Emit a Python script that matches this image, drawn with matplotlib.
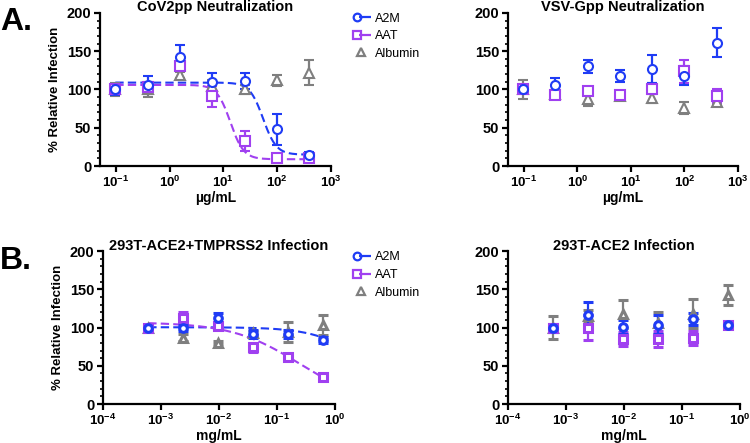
import numpy as np
import matplotlib
matplotlib.use("Agg")
import matplotlib.pyplot as plt
from matplotlib.lines import Line2D
from matplotlib.legend_handler import HandlerTuple
from matplotlib.ticker import MultipleLocator, FixedLocator, FuncFormatter

plt.rcParams["font.family"] = ["Liberation Sans", "DejaVu Sans"]
plt.rcParams["mathtext.fontset"] = "custom"
plt.rcParams["mathtext.rm"] = "Liberation Sans:bold"
plt.rcParams["mathtext.bf"] = "Liberation Sans:bold"

# ── data ──────────────────────────────────────────────────────────────────────
series_names = ["A2M", "AAT", "Albumin"]

# Panel A: pseudovirus neutralization (µg/mL)
conc_ug = [0.0977, 0.39, 1.56, 6.25, 25, 100, 400]

cov_a2m = [100, 106, 143, 110, 111, 48, 15]
cov_a2m_err = [7, 12, 15, 11, 10, 20, 3]
cov_aat = [100, 103, 130, 91, 33, 10, 10]
cov_aat_err = [5, 6, 5, 14, 13, 2, 2]
cov_alb = [100, 100, 119, 104, 100, 112, 122]
cov_alb_err = [8, 10, 4, 8, 6, 7, 16]

vsv_a2m = [100, 106, 130, 118, 127, 118, 161]
vsv_a2m_err = [5, 9, 9, 8, 18, 12, 19]
vsv_aat = [100, 93, 98, 93, 101, 124, 91]
vsv_aat_err = [4, 4, 5, 4, 7, 15, 9]
vsv_alb = [100, 94, 88, 92, 89, 76, 84]
vsv_alb_err = [12, 4, 9, 4, 6, 8, 3]

# fitted dose-response parameters: top, bottom, IC50, hill
cov_a2m_fit = [109, 15, 55, 3.5]
cov_aat_fit = [106, 9, 13.5, 3.5]

# Panel B: cell-line infection (mg/mL)
conc_mg = [0.00061, 0.00244, 0.00977, 0.039, 0.156, 0.625]

tmp_a2m = [99, 99, 112, 92, 92, 84]
tmp_a2m_err = [3, 4, 7, 5, 5, 4]
tmp_aat = [100, 113, 102, 74, 62, 36]
tmp_aat_err = [3, 8, 3, 6, 3, 3]
tmp_alb = [100, 87, 80, 93, 94, 103]
tmp_alb_err = [3, 4, 2, 3, 13, 13]

tmp_a2m_fit = [100.5, 0, 4.0, 1.0]
tmp_aat_fit = [107, 0, 0.24, 0.75]

ace_a2m = [99, 116, 101, 104, 111, 104]
ace_a2m_err = [5, 17, 9, 12, 8, 2]
ace_aat = [100, 100, 85, 85, 86, 104]
ace_aat_err = [5, 16, 9, 11, 9, 2]
ace_alb = [100, 115, 118, 106, 118, 143]
ace_alb_err = [15, 8, 18, 15, 19, 13]

# ── style ─────────────────────────────────────────────────────────────────────
colors = {"A2M": "#1f3cf5", "AAT": "#a040f0", "Albumin": "#7f7f7f"}
markers = {"A2M": "o", "AAT": "s", "Albumin": "^"}


def logistic(x, top, bottom, ic50, hill):
    return bottom + (top - bottom) / (1 + (x / ic50) ** hill)


def draw_panel(ax, x, sets, fits, title, xlabel, xlim, decades, ms, mew):
    for name, (y, err) in sets:
        ax.errorbar(x, y, yerr=err, fmt=markers[name], color=colors[name],
                    mfc="white", mec=colors[name], ms=ms, mew=mew,
                    elinewidth=1.6, capsize=3.5, capthick=1.6, zorder=3)
    for name, p in fits:
        xs = np.logspace(np.log10(x[0]), np.log10(x[-1]), 300)
        ax.plot(xs, logistic(xs, *p), "--", color=colors[name], lw=1.5,
                dashes=(4, 2), zorder=2)
    ax.set_xscale("log")
    ax.set_xlim(*xlim)
    ax.set_ylim(0, 200)
    ax.xaxis.set_major_locator(FixedLocator([10.0 ** d for d in decades]))
    ax.xaxis.set_minor_locator(FixedLocator([]))
    ax.xaxis.set_major_formatter(
        FuncFormatter(lambda v, pos: r"$\mathbf{10^{%d}}$" % round(np.log10(v))))
    ax.yaxis.set_major_locator(MultipleLocator(50))
    ax.yaxis.set_minor_locator(MultipleLocator(10))
    for s in ["top", "right"]:
        ax.spines[s].set_visible(False)
    for s in ["left", "bottom"]:
        ax.spines[s].set_linewidth(1.6)
    ax.tick_params(which="major", length=4, width=1.6, pad=2)
    ax.tick_params(which="minor", length=2.5, width=1.2)
    ax.tick_params(axis="x", labelsize=9.5)
    ax.tick_params(axis="y", labelsize=10.5)
    for lab in ax.get_yticklabels():
        lab.set_fontweight("bold")
    ax.text(0.5, 1.035, title, transform=ax.transAxes, ha="center", va="center",
            fontsize=10.5, fontweight="bold")
    ax.set_xlabel(xlabel, fontsize=10, fontweight="bold", labelpad=1)


fig = plt.figure(figsize=(7.5, 4.43), dpi=100)

ax1 = fig.add_axes([0.133, 0.625, 0.308, 0.346])
ax2 = fig.add_axes([0.677, 0.625, 0.307, 0.346])
ax3 = fig.add_axes([0.137, 0.088, 0.309, 0.345])
ax4 = fig.add_axes([0.677, 0.088, 0.309, 0.345])

draw_panel(ax1, conc_ug,
           [("Albumin", (cov_alb, cov_alb_err)), ("AAT", (cov_aat, cov_aat_err)),
            ("A2M", (cov_a2m, cov_a2m_err))],
           [("A2M", cov_a2m_fit), ("AAT", cov_aat_fit)],
           "CoV2pp Neutralization", "µg/mL", (10 ** -1.3, 1e3), range(-1, 4), 6.5, 1.5)
draw_panel(ax2, conc_ug,
           [("Albumin", (vsv_alb, vsv_alb_err)), ("AAT", (vsv_aat, vsv_aat_err)),
            ("A2M", (vsv_a2m, vsv_a2m_err))],
           [],
           "VSV-Gpp Neutralization", "µg/mL", (10 ** -1.3, 1e3), range(-1, 4), 6.5, 1.5)
draw_panel(ax3, conc_mg,
           [("Albumin", (tmp_alb, tmp_alb_err)), ("AAT", (tmp_aat, tmp_aat_err)),
            ("A2M", (tmp_a2m, tmp_a2m_err))],
           [("A2M", tmp_a2m_fit), ("AAT", tmp_aat_fit)],
           "293T-ACE2+TMPRSS2 Infection", "mg/mL", (1e-4, 1), range(-4, 1), 5.5, 2.2)
draw_panel(ax4, conc_mg,
           [("Albumin", (ace_alb, ace_alb_err)), ("AAT", (ace_aat, ace_aat_err)),
            ("A2M", (ace_a2m, ace_a2m_err))],
           [],
           "293T-ACE2 Infection", "mg/mL", (1e-4, 1), range(-4, 1), 5.5, 2.2)

for ax in (ax1, ax3):
    ax.set_ylabel("% Relative Infection", fontsize=9.5, fontweight="bold", labelpad=4)

# legend handles: marker with a short horizontal bar
handles = []
for name in series_names:
    mk = Line2D([], [], ls="none", marker=markers[name], color=colors[name],
                mfc="white", mec=colors[name], ms=5.5, mew=1.6)
    if name == "Albumin":
        handles.append(mk)
    else:
        bar = Line2D([], [], ls="none", marker="_", color=colors[name], ms=8, mew=1.6)
        handles.append((mk, bar))

for ypos in (0.997, 0.458):
    fig.legend(handles, series_names, loc="upper left", bbox_to_anchor=(0.458, ypos),
               frameon=False, fontsize=9, handlelength=1.0, handletextpad=0.6,
               labelspacing=0.45, handler_map={tuple: HandlerTuple(ndivide=None)})

fig.text(0.0, 0.985, "A.", fontsize=23, fontweight="bold", va="top", ha="left")
fig.text(0.0, 0.445, "B.", fontsize=23, fontweight="bold", va="top", ha="left")

fig.savefig("out.png", dpi=100)
